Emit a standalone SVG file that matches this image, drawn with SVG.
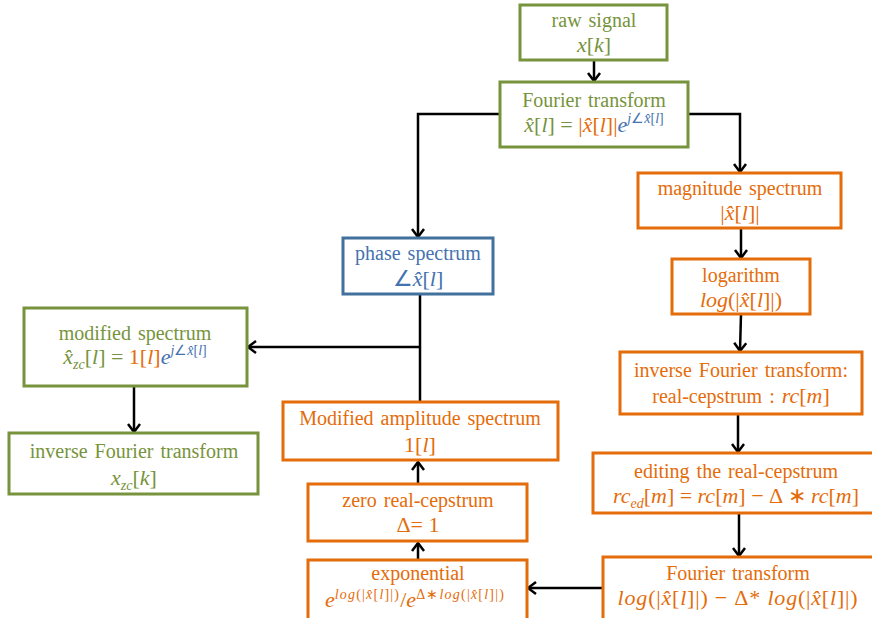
<svg xmlns="http://www.w3.org/2000/svg" width="872" height="618" viewBox="0 0 872 618">
<style>
  .box{fill:#fff;stroke-width:3}
  .gb{stroke:#77933C}.ob{stroke:#E46C0A}.bb{stroke:#41719C}
  .t{font-family:"Liberation Serif","Times New Roman",serif;font-size:20px;text-anchor:middle;word-spacing:2px}
  .f{font-size:22px;word-spacing:0}
  .g{fill:#77933C}.o{fill:#E46C0A}.b{fill:#4472B0}
  .i{font-style:italic}
  .sup{font-size:14px}
  .sub{font-size:14px}
  .c{fill:none;stroke:#000;stroke-width:2.5}
</style>
<defs>
  <marker id="ah" markerWidth="14" markerHeight="14" refX="12" refY="7" orient="auto" markerUnits="userSpaceOnUse">
    <path d="M4,1 L12,7 L4,13" fill="none" stroke="#000" stroke-width="2.5"/>
  </marker>
</defs>

<g id="connectors">
  <line class="c" x1="594" y1="60" x2="594" y2="81" marker-end="url(#ah)"/>
  <polyline class="c" points="500,114 418,114 418,237" marker-end="url(#ah)"/>
  <polyline class="c" points="688,114 740,114 740,172" marker-end="url(#ah)"/>
  <line class="c" x1="741" y1="228" x2="741" y2="258" marker-end="url(#ah)"/>
  <line class="c" x1="741" y1="314" x2="740" y2="351" marker-end="url(#ah)"/>
  <line class="c" x1="738" y1="415" x2="738" y2="452" marker-end="url(#ah)"/>
  <line class="c" x1="739" y1="513" x2="739" y2="556" marker-end="url(#ah)"/>
  <line class="c" x1="603" y1="588" x2="528" y2="588" marker-end="url(#ah)"/>
  <line class="c" x1="418" y1="559" x2="418" y2="543" marker-end="url(#ah)"/>
  <line class="c" x1="418" y1="483" x2="418" y2="462" marker-end="url(#ah)"/>
  <line class="c" x1="420" y1="295" x2="420" y2="401"/>
  <line class="c" x1="420" y1="347" x2="248" y2="347" marker-end="url(#ah)"/>
  <line class="c" x1="134" y1="386" x2="134" y2="432" marker-end="url(#ah)"/>
</g>

<g id="raw-signal">
  <rect class="box gb" x="520" y="5" width="147" height="55"/>
  <text class="t g" x="594" y="27">raw signal</text>
  <text class="t f g" x="594" y="52"><tspan class="i">x</tspan>[<tspan class="i">k</tspan>]</text>
</g>

<g id="fourier-top">
  <rect class="box gb" x="500" y="82" width="188" height="65"/>
  <text class="t g" x="594" y="107">Fourier transform</text>
  <text class="t f" x="594" y="132" font-size="21"><tspan class="g"><tspan class="i">x̂</tspan>[<tspan class="i">l</tspan>] = </tspan><tspan class="o">|<tspan class="i">x̂</tspan>[<tspan class="i">l</tspan>]|</tspan><tspan class="b"><tspan class="i">e</tspan><tspan class="sup" dy="-9"><tspan class="i">j</tspan>∠<tspan class="i">x̂</tspan>[<tspan class="i">l</tspan>]</tspan></tspan></text>
</g>

<g id="magnitude-spectrum">
  <rect class="box ob" x="638" y="173" width="203" height="55"/>
  <text class="t o" x="740" y="195">magnitude spectrum</text>
  <text class="t f o" x="740" y="220">|<tspan class="i">x̂</tspan>[<tspan class="i">l</tspan>]|</text>
</g>

<g id="phase-spectrum">
  <rect class="box bb" x="343" y="238" width="150" height="56"/>
  <text class="t b" x="418" y="260">phase spectrum</text>
  <text class="t f b" x="418" y="286">∠<tspan class="i">x̂</tspan>[<tspan class="i">l</tspan>]</text>
</g>

<g id="logarithm">
  <rect class="box ob" x="672" y="259" width="138" height="55"/>
  <text class="t o" x="741" y="282">logarithm</text>
  <text class="t f o" x="741" y="307"><tspan class="i">log</tspan>(|<tspan class="i">x̂</tspan>[<tspan class="i">l</tspan>]|)</text>
</g>

<g id="modified-spectrum">
  <rect class="box gb" x="24" y="308" width="223" height="78"/>
  <text class="t g" x="135" y="340">modified spectrum</text>
  <text class="t f" x="135" y="364"><tspan class="g"><tspan class="i">x̂</tspan><tspan class="sub i" dy="5">zc</tspan><tspan dy="-5">[</tspan><tspan class="i">l</tspan>] = </tspan><tspan class="o">1[<tspan class="i">l</tspan>]</tspan><tspan class="b"><tspan class="i">e</tspan><tspan class="sup" dy="-9"><tspan class="i">j</tspan>∠<tspan class="i">x̂</tspan>[<tspan class="i">l</tspan>]</tspan></tspan></text>
</g>

<g id="inverse-fourier-right">
  <rect class="box ob" x="620" y="352" width="242" height="62"/>
  <text class="t o" x="741" y="377">inverse Fourier transform:</text>
  <text class="t o" x="741" y="403">real-cepstrum  : <tspan class="i" font-size="22">rc</tspan><tspan font-size="22">[</tspan><tspan class="i" font-size="22">m</tspan><tspan font-size="22">]</tspan></text>
</g>

<g id="modified-amplitude-spectrum">
  <rect class="box ob" x="283" y="402" width="275" height="58"/>
  <text class="t o" x="420" y="425">Modified amplitude spectrum</text>
  <text class="t f o" x="420" y="452">1[<tspan class="i">l</tspan>]</text>
</g>

<g id="inverse-fourier-left">
  <rect class="box gb" x="9" y="433" width="249" height="61"/>
  <text class="t g" x="134" y="458">inverse Fourier transform</text>
  <text class="t f g" x="134" y="485"><tspan class="i">x</tspan><tspan class="sub i" dy="5">zc</tspan><tspan dy="-5">[</tspan><tspan class="i">k</tspan>]</text>
</g>

<g id="editing-real-cepstrum">
  <rect class="box ob" x="593" y="453" width="284" height="60"/>
  <text class="t o" x="736" y="478">editing the real-cepstrum</text>
  <text class="t f o" x="736" y="503"><tspan class="i">rc</tspan><tspan class="sub i" dy="5">ed</tspan><tspan dy="-5">[</tspan><tspan class="i">m</tspan>] = <tspan class="i">rc</tspan>[<tspan class="i">m</tspan>] − Δ ∗ <tspan class="i">rc</tspan>[<tspan class="i">m</tspan>]</text>
</g>

<g id="zero-real-cepstrum">
  <rect class="box ob" x="308" y="484" width="219" height="57"/>
  <text class="t o" x="418" y="507">zero real-cepstrum</text>
  <text class="t f o" x="418" y="532">Δ= 1</text>
</g>

<g id="exponential">
  <rect class="box ob" x="308" y="560" width="219" height="62"/>
  <text class="t o" x="418" y="580">exponential</text>
  <text class="t f o" x="415" y="607" font-size="24"><tspan class="i">e</tspan><tspan font-size="14" letter-spacing="1.2" dy="-8"><tspan class="i">log</tspan>(|<tspan class="i">x̂</tspan>[<tspan class="i">l</tspan>]|)</tspan><tspan dy="8">/</tspan><tspan class="i">e</tspan><tspan font-size="14" letter-spacing="1.2" dy="-8">Δ∗<tspan class="i">log</tspan>(|<tspan class="i">x̂</tspan>[<tspan class="i">l</tspan>]|)</tspan></text>
</g>

<g id="fourier-bottom">
  <rect class="box ob" x="603" y="557" width="274" height="65"/>
  <text class="t o" x="738" y="580">Fourier transform</text>
  <text class="t f o" x="738" y="605" font-size="23" letter-spacing="0.8"><tspan class="i">log</tspan>(|<tspan class="i">x̂</tspan>[<tspan class="i">l</tspan>]|) − Δ* <tspan class="i">log</tspan>(|<tspan class="i">x̂</tspan>[<tspan class="i">l</tspan>]|)</text>
</g>
</svg>
